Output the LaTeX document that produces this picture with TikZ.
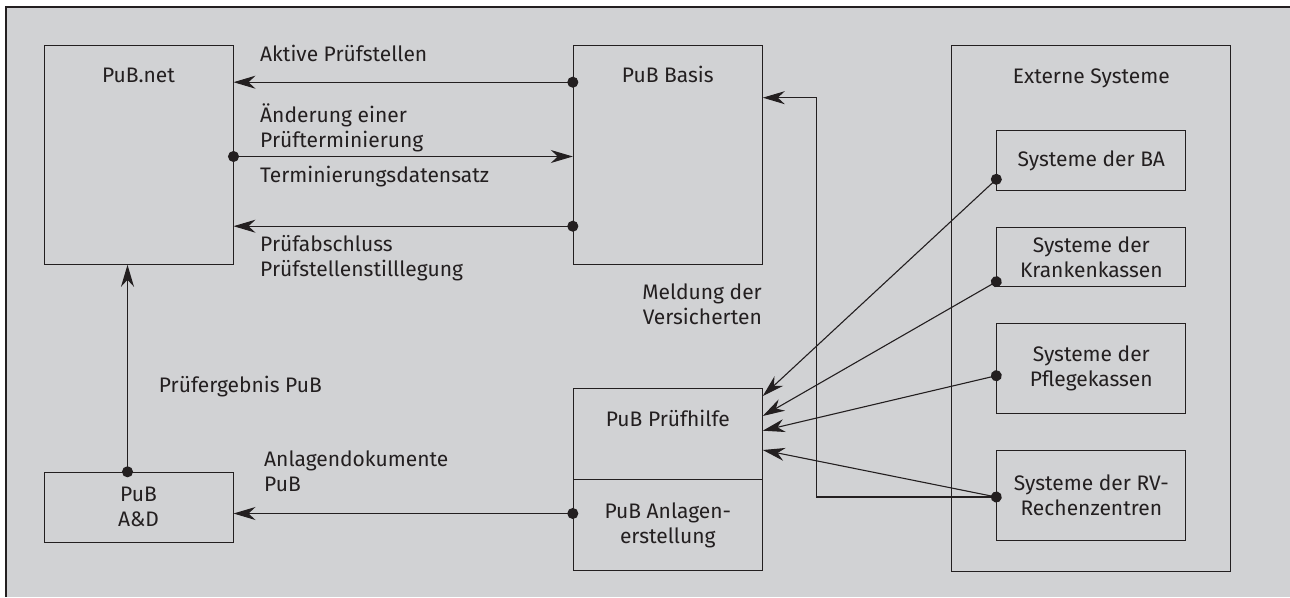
\documentclass[tikz,border=0pt]{standalone}
\usepackage{fontspec}
\setmainfont{Fira Sans}
\usetikzlibrary{arrows.meta}
\definecolor{panel}{RGB}{209,210,212}
\definecolor{ink}{RGB}{35,31,32}
\tikzset{
  every node/.append style={font=\fontsize{21pt}{25pt}\selectfont, text=ink},
  sysbox/.style={draw=ink, line width=1pt, inner sep=0pt, minimum width=189pt, align=center},
  lbl/.style={inner sep=0pt},
  flow/.style={draw=ink, line width=1.1pt, -{Stealth[length=22pt, width=13pt, inset=7pt]}},
  dotflow/.style={flow, {Circle[length=11pt]}-{Stealth[length=22pt, width=13pt, inset=7pt]}, shorten <=-5.5pt},
}
\begin{document}
\begin{tikzpicture}[x=1pt, y=-1pt]
    \useasboundingbox (0,0) rectangle (1290,597);
    % Background panel
    \fill[panel] (6,7) rectangle (1290,597);
    \draw[ink, line width=1.5pt] (1290,7) -- (6,7) -- (6,597);

    % Internal systems
    \node[sysbox, minimum height=219pt] (net) at (138.5,154.8) {};
    \node[sysbox, minimum height=219pt] (basis) at (667.8,154.8) {};
    \node[sysbox, minimum height=90.6pt] (hilfe) at (667.8,434) {};
    \node[sysbox, minimum height=91.4pt] (anlagen) at (667.8,525) {PuB Anlagen-\\erstellung};
    \node[sysbox, minimum height=70pt] (ad) at (138.5,507.3) {PuB\\A\&D};
    \node[lbl, anchor=base] (nettitle) at ([yshift=-38pt]net.north) {PuB.net};
    \node[lbl, anchor=base] (basistitle) at ([yshift=-38pt]basis.north) {PuB Basis};
    \node[lbl, anchor=base] (hilfetitle) at ([yshift=-38pt]hilfe.north) {PuB Prüfhilfe};

    % External systems
    \node[sysbox, minimum width=279.3pt, minimum height=525.7pt] (ext) at (1091.3,308.2) {};
    \node[lbl, anchor=base] (exttitle) at ([yshift=-39pt]ext.north) {Externe Systeme};
    \node[sysbox, minimum height=59.6pt] (ba) at (1091.3,160.5) {Systeme der BA};
    \node[sysbox, minimum height=59.4pt] (kk) at (1091.3,257) {Systeme der\\Krankenkassen};
    \node[sysbox, minimum height=90pt] (pk) at (1091.3,368.7) {Systeme der\\Pflegekassen};
    \node[sysbox, minimum height=89.6pt] (rv) at (1091.3,495.5) {Systeme der RV-\\Rechenzentren};

    % Data flows PuB.net <-> PuB Basis
    \draw[dotflow] ([yshift=-37.4pt]basis.north west) -- ([yshift=-37.4pt]net.north east);
    \draw[dotflow] ([yshift=-111.7pt]net.north east) -- ([yshift=-111.7pt]basis.north west);
    \draw[dotflow] ([yshift=-181.4pt]basis.north west) -- ([yshift=-181.4pt]net.north east);
    \node[lbl, anchor=base west] (aktiv) at (260,61.7) {Aktive Prüfstellen};
    \node[lbl, anchor=base west, align=left] (aenderung) at (260,147.7) {Änderung einer\\Prüfterminierung};
    \node[lbl, anchor=base west] (datensatz) at (260,182.7) {Terminierungsdatensatz};
    \node[lbl, anchor=base west, align=left] (abschluss) at (260,276) {Prüfabschluss\\Prüfstellenstilllegung};

    % Results and attachments
    \draw[dotflow] ([xshift=-11pt]ad.north) -- ([xshift=-11pt]net.south);
    \draw[dotflow] ([yshift=11.5pt]anlagen.west) -- ([yshift=-6.2pt]ad.east);
    \node[lbl, anchor=base west] (ergebnis) at (158.7,392.7) {Prüfergebnis PuB};
    \node[lbl, anchor=base west, align=left] (dokumente) at (264,491.3) {Anlagendokumente\\PuB};

    % Reports from external systems
    \draw[dotflow] ([yshift=-18.8pt]ba.west) -- ([yshift=38pt]hilfe.east);
    \draw[dotflow] ([yshift=-24.7pt]kk.west) -- ([yshift=18pt]hilfe.east);
    \draw[dotflow] ([yshift=-7pt]pk.west) -- ([yshift=3.3pt]hilfe.east);
    \draw[dotflow] ([yshift=-1.5pt]rv.west) -- ([yshift=-16pt]hilfe.east);
    \draw[flow] ([yshift=-1.5pt]rv.west) -| ([xshift=53.7pt,yshift=57.1pt]basis.east) -- ([yshift=57.1pt]basis.east);
    \node[lbl, anchor=base east, align=right] (meldung) at (762,324.3) {Meldung der\\Versicherten};
\end{tikzpicture}
\end{document}
